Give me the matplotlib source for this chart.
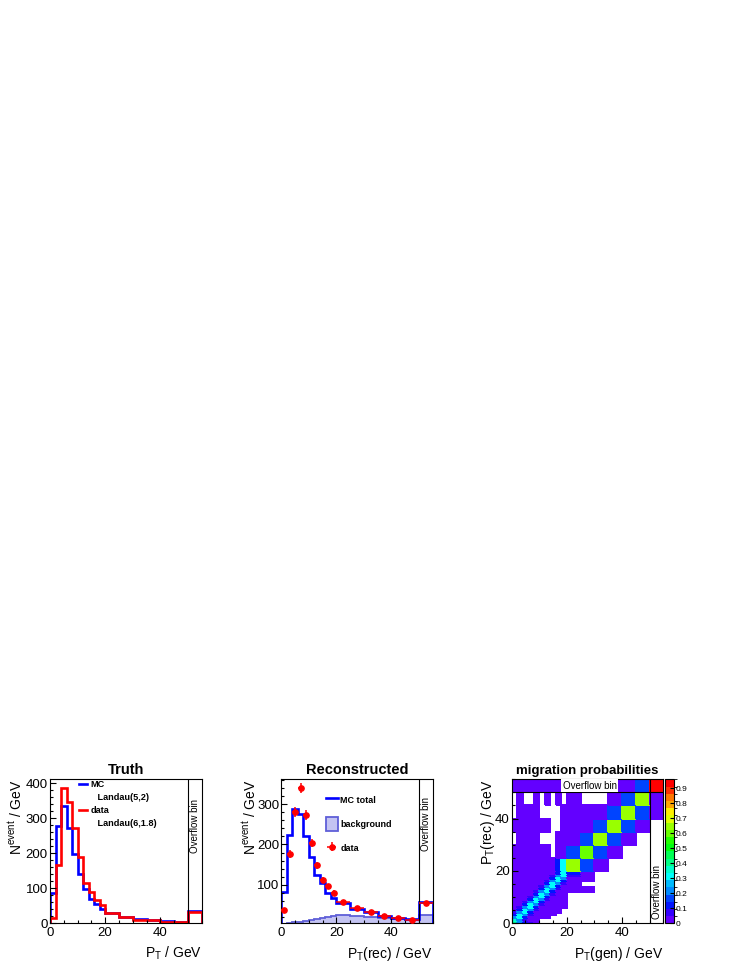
import colorsys
import matplotlib
matplotlib.use("Agg")
import matplotlib.pyplot as plt
import numpy as np
from matplotlib.colors import ListedColormap, BoundaryNorm
from matplotlib.lines import Line2D
from matplotlib.patches import Patch
from matplotlib.ticker import MultipleLocator

plt.rcParams['font.family'] = ['Liberation Sans', 'DejaVu Sans']
plt.rcParams['mathtext.default'] = 'regular'

# binning: fine 0-20, coarse 20-50, last bin 50-55 is the overflow bin
gen_edges = [0, 2, 4, 6, 8, 10, 12, 14, 16, 18, 20, 25, 30, 35, 40, 45, 50, 55]
rec_edges = [0, 1, 2, 3, 4, 5, 6, 7, 8, 9, 10, 11, 12, 13, 14, 15, 16, 17, 18, 19, 20,
             25, 30, 35, 40, 45, 50, 55]

# truth level, events / GeV
truth_mc = [88, 278, 336, 274, 198, 140, 98, 69, 54, 40, 30, 18, 12, 10, 6, 4, 34]
truth_data = [16, 168, 386, 348, 274, 190, 116, 89, 68, 53, 30, 17, 9, 9, 4, 3, 31]

# reconstructed level, events / GeV
reco_mc_total = [83, 224, 287, 276, 220, 168, 125, 104, 80, 66, 54, 40, 31, 23, 18, 14, 57]
reco_background = [3, 4, 6, 8, 10, 13, 15, 18, 20, 22, 24, 23, 20, 17, 15, 12, 25]
reco_data = [38, 176, 281, 340, 273, 204, 148, 111, 96, 80, 56, 43, 31, 22, 18, 12, 54]
reco_data_err = [4.4, 9.4, 11.9, 13, 11.7, 10.1, 8.6, 7.4, 6.9, 6.3, 3.3, 2.9, 2.5, 2.1, 1.9, 1.5, 3.3]

# migration probabilities, rows = rec bins (bottom up), cols = gen bins; 0 = empty
migration = [
    [.40, .21, .11, .05, .02, 0, 0, 0, 0, 0, 0, 0, 0, 0, 0, 0, 0],
    [.34, .22, .05, .02, .02, 0, 0, 0, 0, 0, 0, 0, 0, 0, 0, 0, 0],
    [.22, .30, .11, .02, .02, .02, .02, 0, 0, 0, 0, 0, 0, 0, 0, 0, 0],
    [.11, .31, .21, .05, .02, .02, .02, .02, 0, 0, 0, 0, 0, 0, 0, 0, 0],
    [.05, .22, .30, .11, .02, .02, .02, .02, .02, 0, 0, 0, 0, 0, 0, 0, 0],
    [.02, .11, .31, .21, .05, .02, .02, .02, .02, 0, 0, 0, 0, 0, 0, 0, 0],
    [.02, .05, .22, .30, .11, .02, .02, .02, .02, .02, 0, 0, 0, 0, 0, 0, 0],
    [.02, .02, .11, .31, .21, .05, .02, .02, .02, .02, 0, 0, 0, 0, 0, 0, 0],
    [.02, .02, .05, .22, .30, .11, .02, .02, .02, .02, 0, 0, 0, 0, 0, 0, 0],
    [.02, .02, .02, .11, .31, .21, .05, .02, .02, .02, 0, 0, 0, 0, 0, 0, 0],
    [.02, .02, .02, .05, .22, .30, .11, .02, .02, .02, 0, 0, 0, 0, 0, 0, 0],
    [.02, .02, .02, .02, .11, .31, .21, .05, .02, .02, 0, 0, 0, 0, 0, 0, 0],
    [.02, .02, .02, .02, .05, .22, .30, .11, .02, .02, .02, .02, 0, 0, 0, 0, 0],
    [.02, .02, .02, .02, .02, .11, .31, .21, .05, .02, .02, .02, 0, 0, 0, 0, 0],
    [.02, .02, .02, .02, .02, .05, .22, .30, .11, .02, .02, 0, 0, 0, 0, 0, 0],
    [.02, .02, .02, .02, .02, .02, .11, .31, .21, .05, .02, 0, 0, 0, 0, 0, 0],
    [.02, .02, .02, .02, .02, .02, .05, .22, .30, .11, .02, .02, 0, 0, 0, 0, 0],
    [.02, .02, .02, .02, .02, .02, .02, .11, .31, .21, .02, .02, 0, 0, 0, 0, 0],
    [.02, .02, .02, .02, .02, .02, .02, .05, .22, .30, .09, .02, 0, 0, 0, 0, 0],
    [.02, .02, .02, .02, .02, .02, .02, .02, .11, .31, .12, .02, 0, 0, 0, 0, 0],
    [.02, .02, .02, .02, .02, .02, .02, .02, .13, .30, .63, .17, .03, 0, 0, 0, 0],
    [.02, .02, .02, .02, .02, .02, .02, 0, .02, .02, .16, .62, .17, .03, 0, 0, 0],
    [0, .02, .02, .02, .02, 0, 0, 0, .02, .02, .03, .15, .63, .16, .03, 0, 0],
    [.02, .02, .02, .02, .02, .02, .02, 0, 0, .02, .03, .03, .16, .64, .17, .03, 0],
    [0, .02, .02, .02, .02, 0, 0, 0, 0, .02, .03, .03, .03, .15, .65, .16, .03],
    [0, .02, 0, 0, .02, 0, .02, 0, .02, 0, .03, 0, 0, .03, .16, .64, .03],
    [.02, .02, .02, .02, .02, .02, .02, .02, .02, .02, 0, 0, 0, .03, .03, .17, .96],
]

W, H = 747, 967
fig = plt.figure(figsize=(W / 100, H / 100), dpi=100)


def px_axes(x0, x1, y0, y1):
    return fig.add_axes([x0 / W, 1 - y1 / H, (x1 - x0) / W, (y1 - y0) / H])


def root_axes(ax, ymajor, yminor):
    ax.set_xlim(0, 55)
    ax.xaxis.set_major_locator(MultipleLocator(20))
    ax.xaxis.set_minor_locator(MultipleLocator(5))
    ax.yaxis.set_major_locator(MultipleLocator(ymajor))
    ax.yaxis.set_minor_locator(MultipleLocator(yminor))
    ax.tick_params(which='both', direction='in', top=False, right=False,
                   labelsize=9.5, width=0.8)
    ax.tick_params(axis='y', which='both', pad=1.5)
    ax.tick_params(axis='x', which='both', pad=2.5)
    ax.tick_params(which='major', length=4.5)
    ax.tick_params(which='minor', length=2.5)
    for s in ax.spines.values():
        s.set_linewidth(0.8)


ax1 = px_axes(50, 201.7, 779.3, 923.3)
ax2 = px_axes(281.3, 432.5, 779.3, 923.3)
ax3 = px_axes(511.7, 663.3, 779.3, 923.3)
cax = px_axes(664.5, 674.5, 779.3, 923.3)

# ---- Truth ----
ax1.stairs(truth_mc, gen_edges, color='#0000ff', lw=1.9)
ax1.stairs(truth_data, gen_edges, color='#ff0000', lw=1.9)
root_axes(ax1, 100, 20)
ax1.set_ylim(0, 412)
ax1.axvline(50, color='black', lw=0.8)
ax1.text(52.5, 355, 'Overflow bin', rotation=90, ha='center', va='top', fontsize=7)
ax1.set_title('Truth', fontsize=10.5, fontweight='bold', pad=3.5)
ax1.set_xlabel('P$_{T}$ / GeV', fontsize=10, loc='right')
ax1.set_ylabel('N$^{event}$ / GeV', fontsize=10, loc='top')
ax1.xaxis.set_label_coords(1.0, -0.15)
ax1.yaxis.set_label_coords(-0.17, 1.0)
blank = Line2D([], [], color='none')
ax1.legend([Line2D([], [], color='#0000ff', lw=1.9), blank,
            Line2D([], [], color='#ff0000', lw=1.9), blank],
           ['MC', '   Landau(5,2)', 'data', '   Landau(6,1.8)'],
           loc='upper left', bbox_to_anchor=(0.19, 0.995), frameon=False,
           prop={'weight': 'bold', 'size': 6.6}, handlelength=0.9,
           handletextpad=0.35, labelspacing=0.45, borderpad=0, borderaxespad=0)

# ---- Reconstructed ----
gen_lo = np.array(gen_edges[:-1])
gen_hi = np.array(gen_edges[1:])
centers = (gen_lo + gen_hi) / 2
half = (gen_hi - gen_lo) / 2
bkg_fill, bkg_edge = '#c4c4f2', '#5f5fd8'
ax2.stairs(reco_background, gen_edges, fill=True, facecolor=bkg_fill, edgecolor='none')
ax2.stairs(reco_background, gen_edges, color=bkg_edge, lw=1.3)
ax2.stairs(reco_mc_total, gen_edges, color='#0000ff', lw=1.9)
data_cont = ax2.errorbar(centers, reco_data, yerr=reco_data_err, xerr=half, fmt='o',
                         color='#ff0000', ms=3.8, elinewidth=1.1, capsize=0, zorder=5)
root_axes(ax2, 100, 20)
ax2.set_ylim(4, 362)
ax2.axvline(50, color='black', lw=0.8)
ax2.text(52.5, 319, 'Overflow bin', rotation=90, ha='center', va='top', fontsize=7)
ax2.set_title('Reconstructed', fontsize=10.5, fontweight='bold', pad=3.5)
ax2.set_xlabel('P$_{T}$(rec) / GeV', fontsize=10, loc='right')
ax2.set_ylabel('N$^{event}$ / GeV', fontsize=10, loc='top')
ax2.xaxis.set_label_coords(1.0, -0.15)
ax2.yaxis.set_label_coords(-0.15, 1.0)
ax2.legend([Line2D([], [], color='#0000ff', lw=1.9),
            Patch(facecolor=bkg_fill, edgecolor=bkg_edge, lw=1.3), data_cont],
           ['MC total', 'background', 'data'],
           loc='upper left', bbox_to_anchor=(0.295, 0.905), frameon=False,
           prop={'weight': 'bold', 'size': 6.5}, handlelength=1.3, handleheight=2.0,
           handletextpad=0.3, labelspacing=1.15, borderpad=0, borderaxespad=0)

# ---- migration probabilities ----
n_pal, n_cont = 50, 20
palette = [colorsys.hls_to_rgb((280 - (i + 1) * 280 / n_pal) / 360, 0.5, 1.0)
           for i in range(n_pal)]
level_colors = [palette[min(int((i + 0.99) * n_pal / n_cont), n_pal - 1)]
                for i in range(n_cont)]
cmap = ListedColormap(level_colors)
mig = np.array(migration)
zmax = mig.max() * 1.001
norm = BoundaryNorm(np.linspace(0, zmax, n_cont + 1), n_cont)
mesh = ax3.pcolormesh(gen_edges, rec_edges, np.ma.masked_equal(mig, 0),
                      cmap=cmap, norm=norm, edgecolors='face', linewidth=0.2)
root_axes(ax3, 20, 5)
ax3.set_ylim(0, 55)
ax3.axvline(50, color='black', lw=0.8)
ax3.axhline(50, color='black', lw=0.8)
ax3.text(28.3, 52.6, 'Overflow bin', ha='center', va='center', fontsize=7,
         bbox=dict(facecolor='white', edgecolor='none', pad=1))
ax3.text(52.6, 22.2, 'Overflow bin', rotation=90, ha='center', va='top', fontsize=7)
ax3.set_title('migration probabilities', fontsize=9.5, fontweight='bold', pad=3.5)
ax3.set_xlabel('P$_{T}$(gen) / GeV', fontsize=10, loc='right')
ax3.set_ylabel('P$_{T}$(rec) / GeV', fontsize=10, loc='top')
ax3.xaxis.set_label_coords(1.0, -0.15)
ax3.yaxis.set_label_coords(-0.1, 1.0)

cb = fig.colorbar(mesh, cax=cax, ticks=[0, .1, .2, .3, .4, .5, .6, .7, .8, .9])
cb.ax.set_yticklabels(['0', '0.1', '0.2', '0.3', '0.4', '0.5', '0.6', '0.7', '0.8', '0.9'])
cb.ax.tick_params(direction='in', length=3, width=0.8, labelsize=6, pad=1)
cb.outline.set_linewidth(0.8)

fig.savefig('out.png', dpi=100)
